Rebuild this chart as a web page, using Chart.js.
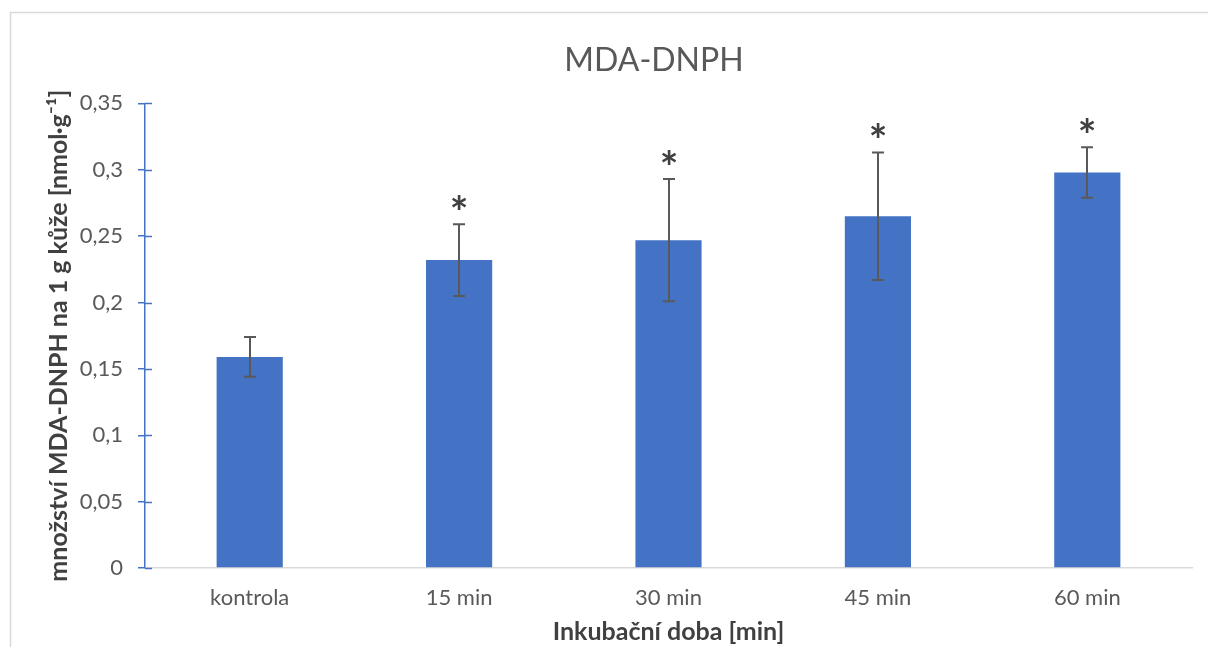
<!DOCTYPE html>
<html>
<head>
<meta charset="utf-8">
<script src="https://cdn.jsdelivr.net/npm/chart.js@4"></script>
<style>
  html, body { margin: 0; padding: 0; background: #fff; overflow: hidden; }
  #wrap { width: 1208px; height: 647px; }
</style>
</head>
<body>
<div id="wrap"><canvas id="chart" width="1208" height="647"></canvas></div>
<script>
// Data
const categories = ['kontrola', '15 min', '30 min', '45 min', '60 min'];
const means = [0.159, 0.232, 0.247, 0.265, 0.298];
const errors = [0.015, 0.027, 0.046, 0.048, 0.019];
const marks = ['', '*', '*', '*', '*'];
const yTicks = { min: 0, max: 0.35, step: 0.05 };

const fontFamily = 'Lato, "Open Sans", sans-serif';

// light grey frame around the chart, like the Excel chart area
const framePlugin = {
  id: 'frame',
  afterLayout(chart) {
    // the frame runs past the right edge of the picture, title is centred on it
    if (chart.titleBlock) {
      chart.titleBlock.left = 10;
      chart.titleBlock.right = 1298;
    }
  },
  beforeDraw(chart) {
    const ctx = chart.ctx;
    ctx.save();
    ctx.strokeStyle = '#d9d9d9';
    ctx.lineWidth = 1.5;
    ctx.strokeRect(10.5, 12.5, 1400, 1000);
    ctx.restore();
  }
};

// error bars, stars and the inner half of the y tick marks
const errorBarPlugin = {
  id: 'errorBars',
  afterDatasetsDraw(chart) {
    const ctx = chart.ctx;
    const y = chart.scales.y;
    const meta = chart.getDatasetMeta(0);
    ctx.save();

    // inner tick marks
    ctx.strokeStyle = '#4472c4';
    ctx.lineWidth = 1.5;
    y.ticks.forEach(t => {
      const py = Math.round(y.getPixelForValue(t.value)) + 0.5;
      ctx.beginPath();
      ctx.moveTo(y.right, py);
      ctx.lineTo(y.right + 7, py);
      ctx.stroke();
    });

    ctx.strokeStyle = '#595959';
    ctx.lineWidth = 2;
    meta.data.forEach((bar, i) => {
      const x = Math.round(bar.x);
      const top = y.getPixelForValue(means[i] + errors[i]);
      const bottom = y.getPixelForValue(means[i] - errors[i]);
      ctx.beginPath();
      ctx.moveTo(x, top);
      ctx.lineTo(x, bottom);
      ctx.moveTo(x - 6, top);
      ctx.lineTo(x + 6, top);
      ctx.moveTo(x - 6, bottom);
      ctx.lineTo(x + 6, bottom);
      ctx.stroke();

      if (marks[i]) {
        ctx.fillStyle = '#404040';
        ctx.font = 'bold 44px ' + fontFamily;
        ctx.textAlign = 'center';
        ctx.textBaseline = 'alphabetic';
        const m = ctx.measureText(marks[i]);
        const cy = top - 22;
        const base = cy + (m.actualBoundingBoxAscent - m.actualBoundingBoxDescent) / 2;
        ctx.fillText(marks[i], x, base);
      }
    });
    ctx.restore();
  }
};

new Chart(document.getElementById('chart'), {
  type: 'bar',
  data: {
    labels: categories,
    datasets: [{
      data: means,
      backgroundColor: '#4472c4',
      borderWidth: 0,
      categoryPercentage: 1,
      barPercentage: 0.316
    }]
  },
  options: {
    responsive: false,
    animation: false,
    layout: { padding: { left: 0, right: 16, top: 0, bottom: 0 } },
    plugins: {
      legend: { display: false },
      tooltip: { enabled: false },
      title: {
        display: true,
        fullSize: false,
        text: 'MDA-DNPH',
        color: '#595959',
        font: { family: fontFamily, size: 32, weight: 'normal', lineHeight: 1.2 },
        padding: { top: 41, bottom: 24 }
      }
    },
    scales: {
      x: {
        afterFit(scale) { scale.height = 79; },
        grid: { display: false, drawTicks: false },
        border: { display: true, color: '#d9d9d9', width: 1.5 },
        ticks: {
          color: '#595959',
          padding: 17,
          font: { family: fontFamily, size: 22 }
        },
        title: {
          display: true,
          text: 'Inkubační doba [min]',
          color: '#404040',
          padding: { top: 0, bottom: 0 },
          font: { family: fontFamily, size: 25, weight: 'bold' }
        }
      },
      y: {
        min: yTicks.min,
        max: yTicks.max,
        afterFit(scale) { scale.width = 145; },
        grid: {
          display: true,
          drawOnChartArea: false,
          drawTicks: true,
          tickLength: 7,
          color: '#4472c4',
          lineWidth: 1.5
        },
        border: { display: true, color: '#4472c4', width: 1.5 },
        ticks: {
          stepSize: yTicks.step,
          color: '#595959',
          padding: 15,
          font: { family: fontFamily, size: 22 },
          callback: v => String(Number(v.toFixed(2))).replace('.', ',')
        },
        title: {
          display: true,
          text: 'množství MDA-DNPH na 1 g kůže [nmol·g⁻¹]',
          color: '#404040',
          padding: { top: 44, bottom: 0 },
          font: { family: fontFamily, size: 25, weight: 'bold' }
        }
      }
    }
  },
  plugins: [framePlugin, errorBarPlugin]
});
</script>
</body>
</html>
